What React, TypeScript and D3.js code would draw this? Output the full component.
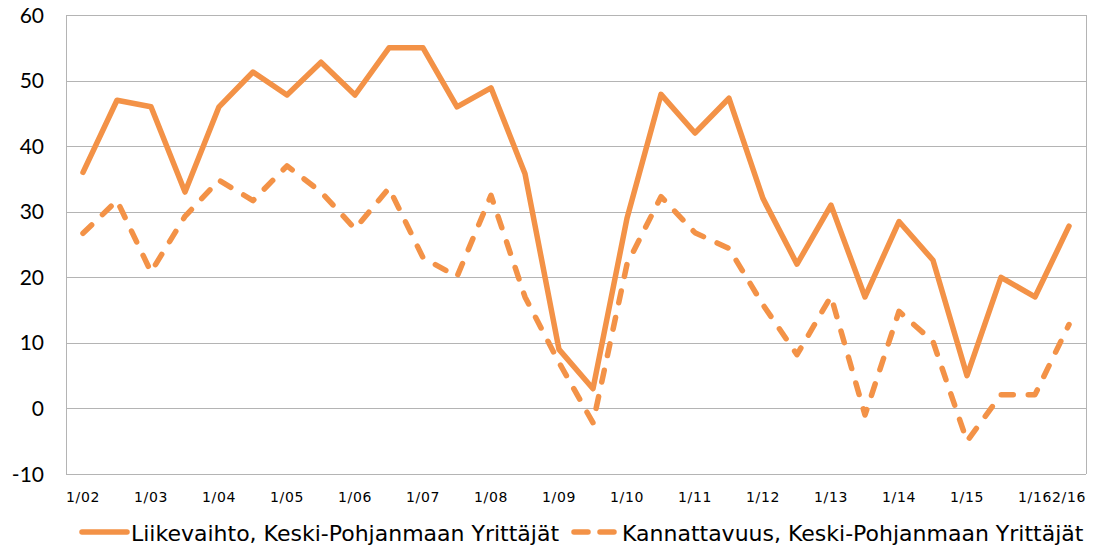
import React, { useRef, useEffect } from 'react';
import * as d3 from 'd3';

const categories = [
  '1/02', '2/02', '1/03', '2/03', '1/04', '2/04', '1/05', '2/05', '1/06', '2/06',
  '1/07', '2/07', '1/08', '2/08', '1/09', '2/09', '1/10', '2/10', '1/11', '2/11',
  '1/12', '2/12', '1/13', '2/13', '1/14', '2/14', '1/15', '2/15', '1/16', '2/16',
];

const liikevaihto = [
  36, 47, 46, 33, 46, 51.3, 47.8, 52.8, 47.8, 55,
  55, 46, 48.9, 35.8, 9, 3, 29, 47.9, 42, 47.3,
  32, 22, 31, 17, 28.5, 22.6, 5, 20, 17, 27.8,
];

const kannattavuus = [
  26.7, 31.7, 20.8, 29.3, 34.8, 31.7, 37, 33, 27.4, 33.6,
  23, 20.1, 32.5, 17, 7, -2.2, 22, 32.3, 26.8, 24.4,
  15.8, 8.2, 17.1, -1, 14.8, 10.2, -5, 2.1, 2.1, 12.8,
];

const yTicks = [-10, 0, 10, 20, 30, 40, 50, 60];

const seriesNames = ['Liikevaihto, Keski-Pohjanmaan Yrittäjät', 'Kannattavuus, Keski-Pohjanmaan Yrittäjät'];

const COLOUR = '#F39247';
const GRID = '#B4B4B4';

const App = () => {
  const svgRef = useRef<SVGSVGElement>(null);

  useEffect(() => {
    if (!svgRef.current) return;
    const width = 1095;
    const height = 549;
    const margin = { top: 15, right: 9, bottom: 75, left: 66 };

    const svg = d3.select(svgRef.current);
    svg.selectAll('*').remove();
    svg.attr('width', width).attr('height', height);

    const x = d3.scaleBand<string>()
      .domain(categories)
      .range([margin.left, width - margin.right]);

    const y = d3.scaleLinear()
      .domain([-10, 60])
      .range([height - margin.bottom, margin.top]);

    // gridlines
    svg.append('g')
      .selectAll('line')
      .data(yTicks)
      .enter().append('line')
      .attr('x1', margin.left)
      .attr('x2', width - margin.right)
      .attr('y1', d => Math.round(y(d)) + 0.5)
      .attr('y2', d => Math.round(y(d)) + 0.5)
      .attr('stroke', GRID)
      .attr('stroke-width', 1);

    // plot borders left/right
    [margin.left, width - margin.right].forEach(px => {
      svg.append('line')
        .attr('x1', px + 0.5)
        .attr('x2', px + 0.5)
        .attr('y1', y(60))
        .attr('y2', y(-10))
        .attr('stroke', GRID);
    });

    // y labels
    svg.append('g')
      .selectAll('text')
      .data(yTicks)
      .enter().append('text')
      .attr('x', 44)
      .attr('y', d => y(d))
      .attr('dy', '0.36em')
      .attr('text-anchor', 'end')
      .style('font-family', 'Lato, "Open Sans", sans-serif')
      .style('font-size', '21px')
      .style('fill', '#000')
      .text(d => d);

    // x labels
    const shown = categories.filter((c, i) => c.startsWith('1/') || i === categories.length - 1);
    svg.append('g')
      .selectAll('text')
      .data(shown)
      .enter().append('text')
      .attr('x', d => (x(d) as number) + x.bandwidth() / 2)
      .attr('y', 502)
      .attr('text-anchor', 'middle')
      .style('font-family', '"DejaVu Sans", sans-serif')
      .style('font-size', '14px')
      .style('letter-spacing', '0.7px')
      .style('fill', '#000')
      .text(d => d);

    const line = d3.line<number>()
      .x((_, i) => (x(categories[i]) as number) + x.bandwidth() / 2)
      .y(d => y(d));

    svg.append('path')
      .datum(kannattavuus)
      .attr('d', line)
      .attr('fill', 'none')
      .attr('stroke', COLOUR)
      .attr('stroke-width', 5.5)
      .attr('stroke-linecap', 'round')
      .attr('stroke-linejoin', 'round')
      .attr('stroke-dasharray', '12 15');

    svg.append('path')
      .datum(liikevaihto)
      .attr('d', line)
      .attr('fill', 'none')
      .attr('stroke', COLOUR)
      .attr('stroke-width', 5.5)
      .attr('stroke-linecap', 'round')
      .attr('stroke-linejoin', 'round');

    // legend
    const legend = svg.append('g');
    const items = [
      { name: seriesNames[0], x0: 82, x1: 127, tx: 131, dash: null },
      { name: seriesNames[1], x0: 574, x1: 619, tx: 622, dash: '14 12' },
    ];
    items.forEach(it => {
      legend.append('line')
        .attr('x1', it.x0)
        .attr('x2', it.x1)
        .attr('y1', 532)
        .attr('y2', 532)
        .attr('stroke', COLOUR)
        .attr('stroke-width', 5.5)
        .attr('stroke-linecap', 'round')
        .attr('stroke-dasharray', it.dash);
      legend.append('text')
        .attr('x', it.tx)
        .attr('y', 541)
        .style('font-family', '"DejaVu Sans", sans-serif')
        .style('font-size', '22px')
        .style('fill', '#000')
        .text(it.name);
    });
  }, []);

  return (
    <div style={{ position: 'absolute', left: 0, top: 0 }}>
      <svg ref={svgRef} style={{ display: 'block' }}></svg>
    </div>
  );
};

export default App;
